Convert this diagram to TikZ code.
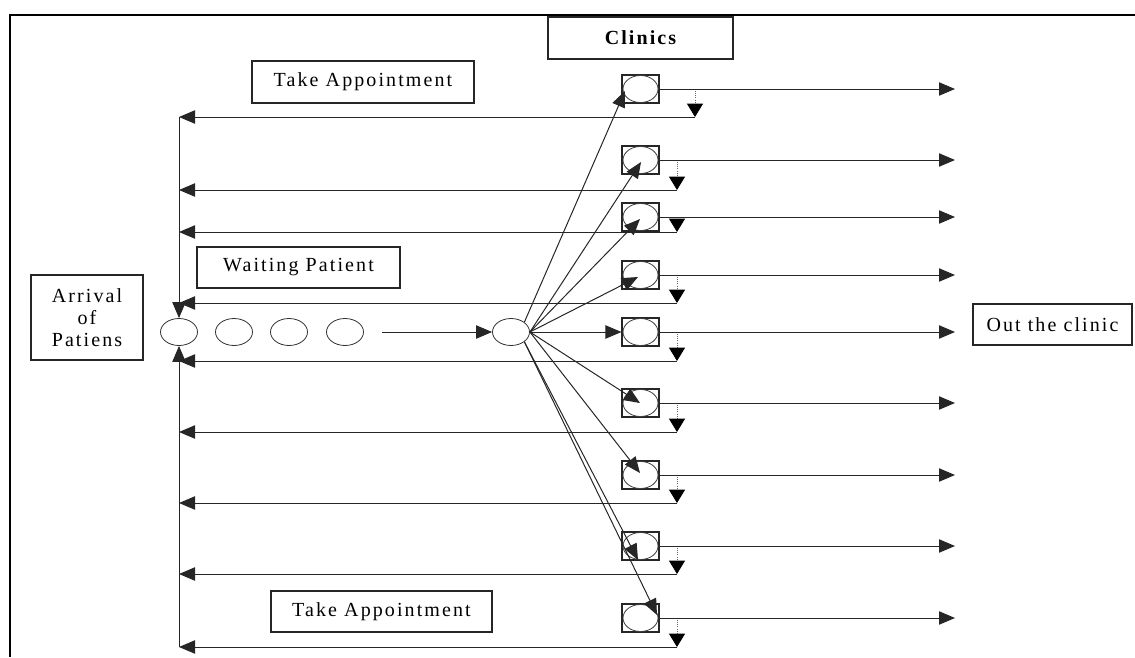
\documentclass[tikz,border=0pt]{standalone}
\usepackage{fontspec}
\setmainfont{Liberation Serif}[LetterSpace=10.5]
\usetikzlibrary{arrows.meta,shapes.geometric}
\begin{document}
\begin{tikzpicture}[x=0.75pt,y=-0.75pt,
  txtbox/.style={draw=black!85,line width=0.8pt,inner sep=0pt,align=center,
    font=\fontsize{15}{16.5}\selectfont},
  clinic/.style={draw=black!85,line width=0.8pt,inner sep=0pt,minimum width=27.75pt,minimum height=21pt},
  qcirc/.style={draw=black!80,line width=0.6pt,ellipse,inner sep=0pt,minimum width=27.75pt,minimum height=20.25pt},
  conn/.style={draw=black!85,line width=0.75pt},
  arr/.style={conn,-{Triangle[length=12pt,width=10pt]}},
  darr/.style={draw=black!60,line width=0.6pt,densely dotted,-{Triangle[length=10pt,width=12pt,color=black]}}]
\useasboundingbox (0,0) rectangle (1135,657);
% frame
\draw[line width=1.6pt] (1135,15) -- (10,15) -- (10,657);
% text boxes
\node[txtbox,minimum width=166.5pt,minimum height=31.5pt] (ta1) at (363,82) {Take Appointment};
\node[txtbox,minimum width=138.75pt,minimum height=31.5pt] (clin) at (640.5,38) {\bfseries Clinics};
\node[txtbox,minimum width=152.25pt,minimum height=30.75pt] (wait) at (298.5,267.5) {Waiting Patient};
\node[txtbox,minimum width=84pt,minimum height=63.75pt] (arr0) at (87,317.5) {Arrival\\of\\Patiens};
\node[txtbox,minimum width=165.75pt,minimum height=30.75pt] (ta2) at (381.5,611.5) {Take Appointment};
\node[txtbox,minimum width=119.25pt,minimum height=30.75pt] (out) at (1052.5,324.5) {Out the clinic};
% queue
\node[qcirc] (q0) at (179,332) {};
\node[qcirc] (q1) at (234,332) {};
\node[qcirc] (q2) at (289,332) {};
\node[qcirc] (q3) at (345,332) {};
\node[qcirc] (hub) at (511,332) {};
\coordinate (qs) at (382,332);
\draw[arr] (qs) -- (hub);
% clinics
\foreach \i/\cy/\ry/\dx in {1/89/117/695,2/160/190/677,3/217/232/677,4/275/303/677,5/332/361/677,6/403/432/677,7/475/503/677,8/546/574/677,9/618/647/677}{
  \node[clinic] (c\i) at (640.5,\cy) {};
  \draw[black!75,line width=0.6pt] (c\i.center) ellipse (17.5 and 13.5);
  \coordinate (o\i) at (955,\cy);
  \draw[arr] (c\i) -- (o\i);
  \coordinate (d\i) at (\dx,\cy+2);
  \coordinate (r\i) at (\dx,\ry);
  \coordinate (l\i) at (179,\ry);
  \draw[darr] (d\i) -- (r\i);
  \draw[arr] (r\i) -- (l\i);
}
% hub to clinics
\draw[arr] (hub.north east) -- (625,91) coordinate (t1);
\foreach \i/\tx/\ty in {2/641/162,3/640/219,4/638/277,6/640/403,7/640/473}{
  \coordinate (t\i) at (\tx,\ty);
  \draw[arr] (hub.east) -- (t\i);
}
\foreach \i/\tx/\ty in {8/638/560,9/657/615}{
  \coordinate (t\i) at (\tx,\ty);
  \draw[arr] (hub.south east) -- (t\i);
}
\draw[arr] (hub) -- (c5);
% left return column
\draw[arr] (l1) -- (q0);
\draw[arr] (l9) -- (q0);
\end{tikzpicture}
\end{document}
